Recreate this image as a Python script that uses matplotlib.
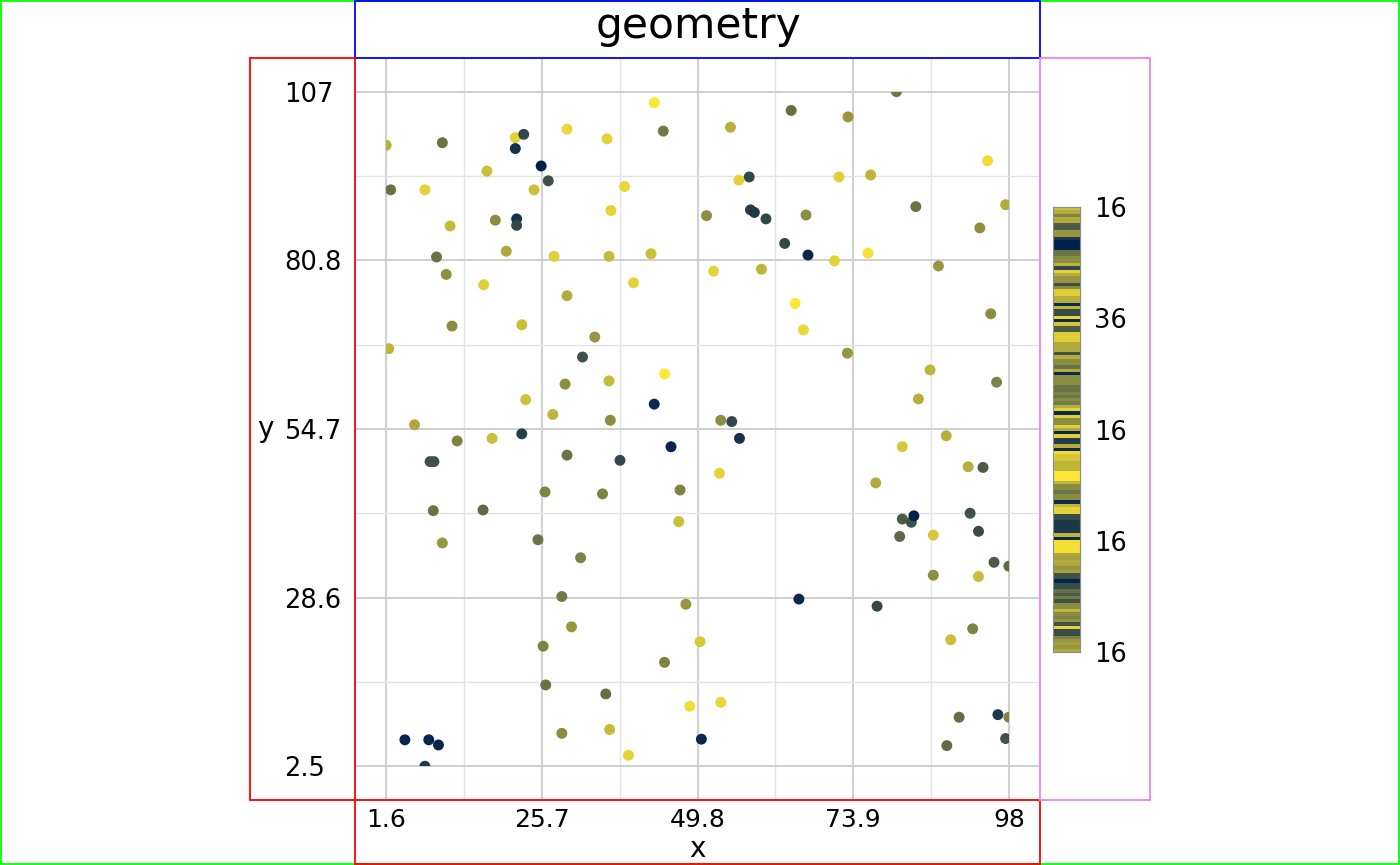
import numpy as np
import matplotlib
matplotlib.use("Agg")
import matplotlib.pyplot as plt
from matplotlib.colors import LinearSegmentedColormap
from matplotlib.patches import Rectangle

plt.rcParams['font.family'] = ['DejaVu Sans']

# ---------------- data ----------------
x_vals = [43.1, 44.5, 1.6, 10.3, 21.6, 22.9, 29.6, 35.8, 21.6, 25.6,
          17.2, 26.7, 2.3, 7.6, 24.5, 38.5, 36.4, 11.5, 18.5, 21.8,
          21.8, 9.4, 20.2, 27.6, 36.1, 42.6, 10.9, 16.7, 29.6, 39.9,
          11.8, 22.6, 33.9, 2.0, 32.0, 44.7, 29.3, 36.1, 23.2, 27.4,
          43.1, 36.3, 6.0, 64.3, 73.1, 80.6, 54.9, 94.7, 57.8, 56.2,
          71.7, 76.6, 83.6, 97.5, 51.2, 58.0, 58.6, 60.4, 66.6, 93.5,
          63.3, 66.9, 71.0, 76.2, 52.3, 59.7, 87.1, 64.9, 66.2, 95.2,
          73.0, 85.8, 84.0, 96.1, 53.4, 55.1, 12.6, 18.0, 22.6, 45.7,
          8.4, 9.0, 29.6, 37.8, 26.2, 35.1, 47.1, 8.9, 16.6, 46.9,
          10.3, 25.1, 31.7, 28.8, 48.0, 30.3, 25.9, 44.7, 26.3, 35.6,
          48.6, 50.2, 28.8, 36.2, 39.1, 4.5, 8.2, 9.7, 7.6, 50.4,
          56.3, 53.2, 88.3, 81.5, 91.7, 94.0, 77.4, 81.5, 82.9, 83.3,
          81.1, 86.3, 92.0, 93.3, 95.7, 98.0, 86.3, 93.3, 65.5, 77.6,
          92.4, 89.0, 53.4, 90.3, 96.3, 98.0, 88.4, 97.5]
y_vals = [105.3, 100.9, 98.7, 99.1, 99.9, 100.4, 101.2, 99.7, 98.2, 95.5,
          94.7, 93.2, 91.8, 91.8, 91.8, 92.3, 88.6, 86.2, 87.1, 87.3,
          86.3, 81.4, 82.3, 81.5, 81.5, 81.9, 78.7, 77.1, 75.4, 77.4,
          70.7, 70.9, 69.0, 67.2, 65.9, 63.3, 61.7, 62.2, 59.3, 57.0,
          58.6, 56.1, 55.4, 104.1, 103.1, 107.0, 101.5, 96.3, 93.8, 93.3,
          93.8, 94.1, 89.2, 89.5, 87.8, 88.7, 88.3, 87.3, 87.9, 85.9,
          83.5, 81.7, 80.8, 82.0, 79.2, 79.5, 80.0, 74.2, 70.1, 72.6,
          66.5, 63.9, 59.4, 62.0, 56.1, 55.9, 52.9, 53.3, 54.0, 52.0,
          49.7, 49.7, 50.7, 49.9, 45.0, 44.7, 45.3, 42.1, 42.2, 40.4,
          37.1, 37.6, 34.8, 28.8, 27.6, 24.1, 21.1, 18.6, 15.1, 13.7,
          11.8, 21.8, 7.6, 8.2, 4.2, 6.6, 6.6, 5.8, 2.5, 6.7,
          53.3, 47.9, 53.7, 52.0, 48.9, 48.8, 46.4, 40.8, 40.3, 41.3,
          38.1, 38.3, 41.7, 38.9, 34.1, 33.5, 32.1, 31.9, 28.4, 27.3,
          23.8, 22.1, 12.4, 10.1, 10.5, 10.1, 5.7, 6.8]
c_vals = [1.0, 0.45, 0.72, 0.42, 0.9, 0.2, 0.92, 0.9, 0.08, 0.0,
          0.8, 0.25, 0.42, 0.9, 0.8, 0.92, 0.9, 0.78, 0.55, 0.1,
          0.2, 0.42, 0.68, 0.88, 0.78, 0.8, 0.55, 0.88, 0.7, 0.9,
          0.55, 0.8, 0.6, 0.75, 0.25, 1.0, 0.55, 0.78, 0.82, 0.75,
          0.05, 0.55, 0.68, 0.4, 0.6, 0.45, 0.72, 0.95, 0.2, 0.9,
          0.88, 0.75, 0.42, 0.7, 0.55, 0.15, 0.12, 0.2, 0.55, 0.55,
          0.2, 0.03, 0.9, 0.97, 0.9, 0.75, 0.6, 1.0, 0.92, 0.55,
          0.6, 0.75, 0.72, 0.5, 0.55, 0.2, 0.5, 0.8, 0.15, 0.03,
          0.25, 0.25, 0.42, 0.2, 0.5, 0.5, 0.5, 0.42, 0.38, 0.8,
          0.6, 0.42, 0.5, 0.45, 0.6, 0.6, 0.5, 0.5, 0.42, 0.4,
          0.95, 0.85, 0.55, 0.78, 0.9, 0.02, 0.02, 0.03, 0.12, 0.05,
          0.08, 0.9, 0.72, 0.85, 0.72, 0.3, 0.7, 0.3, 0.25, 0.0,
          0.38, 0.85, 0.25, 0.22, 0.3, 0.38, 0.55, 0.8, 0.05, 0.2,
          0.5, 0.8, 0.92, 0.4, 0.12, 0.5, 0.38, 0.25]

x_tick_labels = ['1.6', '25.7', '49.8', '73.9', '98']
y_tick_labels = ['2.5', '28.6', '54.7', '80.8', '107']
legend_tick_labels = ['16', '16', '16', '36', '16']   # bottom -> top

# colour strip of the legend, top -> bottom
legend_stripes = [0.82, 0.7, 0.5, 0.7, 0.7, 0.3, 0.3, 0.6, 0.6, 0.12,
                  0.0, 0.0, 0.0, 0.42, 0.42, 0.55, 0.55, 0.75, 0.2, 0.9,
                  0.72, 0.6, 0.6, 0.25, 0.55, 0.88, 0.88, 0.72, 0.72, 0.05,
                  0.75, 0.22, 0.22, 0.92, 0.05, 0.85, 0.3, 0.3, 0.88, 0.88,
                  0.88, 0.7, 0.7, 0.7, 0.25, 0.72, 0.55, 0.55, 0.42, 0.7,
                  0.05, 0.55, 0.55, 0.55, 0.42, 0.42, 0.5, 0.42, 0.55, 0.45,
                  0.72, 0.9, 0.05, 0.88, 0.55, 0.55, 0.9, 0.7, 0.05, 0.9,
                  0.15, 0.15, 0.72, 0.05, 0.95, 0.85, 0.85, 0.75, 0.75, 0.75,
                  1.0, 1.0, 1.0, 0.75, 0.55, 0.55, 0.42, 0.55, 0.55, 0.05,
                  0.75, 0.9, 0.9, 0.22, 0.22, 0.12, 0.12, 0.12, 0.12, 0.75,
                  0.05, 0.97, 0.97, 0.97, 0.97, 0.68, 0.65, 0.72, 0.68, 0.6,
                  0.65, 0.25, 0.25, 0.03, 0.22, 0.22, 0.4, 0.3, 0.45, 0.25,
                  0.55, 0.55, 0.75, 0.55, 0.5, 0.6, 0.25, 0.9, 0.22, 0.22,
                  0.5, 0.6, 0.65, 0.6, 0.7]

# ---------------- figure ----------------
W, H = 1400, 865
fig = plt.figure(figsize=(W / 100, H / 100), dpi=100)

cmap = LinearSegmentedColormap.from_list('navy_yellow', ['#00204e', '#fde636'])


def px_rect(x0, y0, x1, y1, color, lw=1.3):
    r = Rectangle((x0 / W, 1 - y1 / H), (x1 - x0) / W, (y1 - y0) / H,
                  transform=fig.transFigure, fill=False, edgecolor=color,
                  linewidth=lw, zorder=10)
    fig.add_artist(r)


ax = fig.add_axes([355 / W, 1 - 800 / H, (1040 - 355) / W, (800 - 58) / H])

xmin, xmax = min(x_vals), max(x_vals)
ymin, ymax = min(y_vals), max(y_vals)
xpad = (xmax - xmin) * 0.05
ypad = (ymax - ymin) * 0.05
ax.set_xlim(xmin - xpad, xmax + xpad)
ax.set_ylim(ymin - ypad, ymax + ypad)

xt = np.linspace(xmin, xmax, 5)
yt = np.linspace(ymin, ymax, 5)
ax.set_xticks(xt)
ax.set_xticklabels(x_tick_labels)
ax.set_yticks(yt)
ax.set_yticklabels(y_tick_labels, ha='left')
ax.set_xticks((xt[:-1] + xt[1:]) / 2, minor=True)
ax.set_yticks((yt[:-1] + yt[1:]) / 2, minor=True)
ax.grid(which='major', color='#cfcfcf', linewidth=1.4)
ax.grid(which='minor', color='#e3e3e3', linewidth=1.0)
ax.set_axisbelow(True)
ax.tick_params(which='both', length=0)
ax.tick_params(axis='x', labelsize=18, pad=6)
ax.tick_params(axis='y', labelsize=18.5, pad=(355 - 284) * 0.72)
for s in ax.spines.values():
    s.set_visible(False)

sc = ax.scatter(x_vals, y_vals, c=c_vals, cmap=cmap, vmin=0, vmax=1,
                s=62, linewidths=0, zorder=3)
clip = Rectangle((xmin, ymin), xmax - xmin, ymax - ymin, transform=ax.transData)
sc.set_clip_path(clip)

ax.set_xlabel('x', fontsize=20)
ax.xaxis.set_label_coords(0.5, -0.077)
ax.xaxis.label.set_va('baseline')
ax.set_ylabel('y', fontsize=20, rotation=0, va='center', ha='center')
ax.yaxis.set_label_coords((265 - 355) / 685, 0.5)

fig.text(698 / W, 1 - 38 / H, 'geometry', fontsize=30.5, ha='center',
         va='baseline')

# legend strip
cax = fig.add_axes([1053 / W, 1 - 652 / H, 27 / W, 445 / H])
cax.imshow(np.array(legend_stripes)[:, None], cmap=cmap, vmin=0, vmax=1,
           aspect='auto', extent=[0, 1, 0, 1], interpolation='nearest')
cax.set_xticks([])
cax.yaxis.tick_right()
cax.set_yticks(np.linspace(0, 1, 5))
cax.set_yticklabels(legend_tick_labels)
cax.tick_params(axis='y', length=0, labelsize=18.5, pad=10)
for s in cax.spines.values():
    s.set_color('#8a8a8a')
    s.set_linewidth(0.8)

# layout boxes
px_rect(0.7, 0.7, 1399.3, 864.3, '#00ff00')
px_rect(355, 0.7, 1040, 58, '#0000ff')
px_rect(250, 58, 355, 800, '#ff0000')
px_rect(355, 800, 1040, 864.3, '#ff0000')
px_rect(1040, 58, 1150, 800, '#ee82ee')

fig.savefig('out.png', dpi=100)
